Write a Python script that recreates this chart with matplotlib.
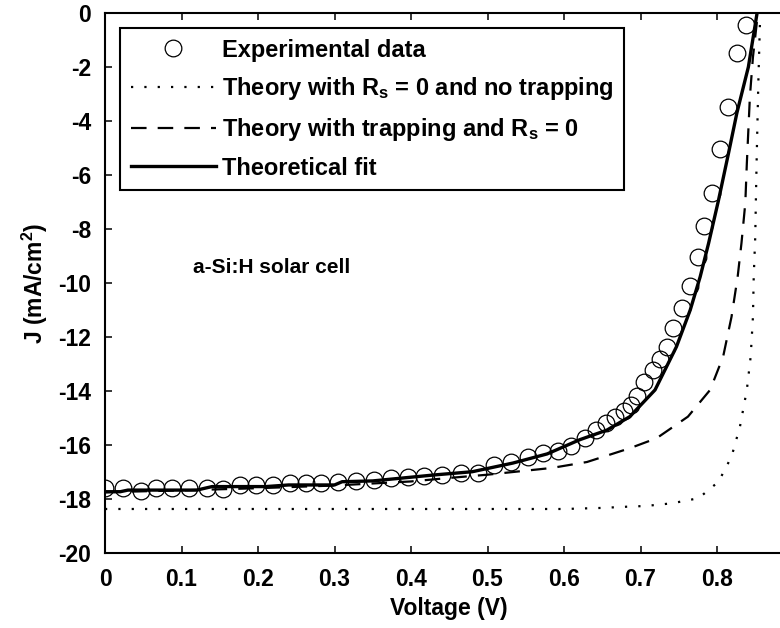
import matplotlib
matplotlib.use("Agg")
import matplotlib.pyplot as plt

# ---------------- data ----------------
exp_v = [0.000, 0.023, 0.047, 0.067, 0.087, 0.110, 0.133, 0.154, 0.176, 0.198,
         0.220, 0.242, 0.263, 0.283, 0.305, 0.328, 0.351, 0.374, 0.396, 0.417,
         0.440, 0.466, 0.488, 0.508, 0.531, 0.553, 0.573, 0.592, 0.609, 0.627,
         0.642, 0.655, 0.667, 0.678, 0.688, 0.696, 0.704, 0.716, 0.725, 0.734,
         0.743, 0.754, 0.765, 0.775, 0.783, 0.794, 0.804, 0.814, 0.826, 0.838]
exp_j = [-17.60, -17.60, -17.70, -17.58, -17.58, -17.60, -17.60, -17.64, -17.48, -17.48,
         -17.48, -17.42, -17.40, -17.42, -17.36, -17.33, -17.30, -17.23, -17.17, -17.15,
         -17.11, -17.03, -17.05, -16.74, -16.63, -16.44, -16.30, -16.22, -16.04, -15.74,
         -15.44, -15.19, -14.96, -14.75, -14.50, -14.20, -13.65, -13.22, -12.83, -12.36,
         -11.68, -10.94, -10.10, -9.03, -7.89, -6.68, -5.05, -3.48, -1.48, -0.44]

notrap_v = [0.000, 0.100, 0.200, 0.300, 0.400, 0.500, 0.600, 0.650, 0.686, 0.706,
            0.741, 0.776, 0.802, 0.819, 0.830, 0.839, 0.844, 0.847, 0.848, 0.850,
            0.851, 0.852, 0.854, 0.856, 0.857]
notrap_j = [-18.37, -18.37, -18.37, -18.37, -18.37, -18.37, -18.37, -18.33, -18.28, -18.26,
            -18.16, -17.97, -17.36, -16.43, -15.32, -13.96, -12.73, -11.25, -9.77, -8.28,
            -6.67, -5.20, -2.60, -0.50, 0.00]

trap_v = [0.000, 0.100, 0.200, 0.300, 0.400, 0.450, 0.500, 0.520, 0.584, 0.630,
          0.686, 0.721, 0.762, 0.791, 0.808, 0.819, 0.827, 0.832, 0.837, 0.839,
          0.841, 0.843, 0.847, 0.852, 0.854]
trap_j = [-17.75, -17.68, -17.60, -17.50, -17.35, -17.22, -17.10, -17.04, -16.85, -16.63,
          -16.12, -15.75, -14.95, -13.96, -12.73, -11.25, -9.77, -8.52, -7.04, -5.57,
          -4.33, -3.10, -1.63, -0.37, 0.00]

fit_v = [0.000, 0.020, 0.030, 0.120, 0.140, 0.210, 0.240, 0.300, 0.310, 0.350,
         0.390, 0.430, 0.480, 0.533, 0.578, 0.621, 0.656, 0.686, 0.719, 0.747,
         0.765, 0.778, 0.789, 0.802, 0.815, 0.826, 0.841, 0.852]
fit_j = [-17.73, -17.73, -17.67, -17.67, -17.54, -17.54, -17.48, -17.48, -17.36, -17.33,
         -17.22, -17.11, -16.99, -16.67, -16.33, -15.80, -15.45, -14.95, -13.96, -12.36,
         -11.00, -9.77, -8.53, -6.93, -5.20, -3.70, -2.00, -0.07]

x_ticks = [0, 0.1, 0.2, 0.3, 0.4, 0.5, 0.6, 0.7, 0.8]
x_ticklabels = ["0", "0.1", "0.2", "0.3", "0.4", "0.5", "0.6", "0.7", "0.8"]
y_ticks = [0, -2, -4, -6, -8, -10, -12, -14, -16, -18, -20]

labels = ["Experimental data",
          r"Theory with R$_\mathregular{s}$ = 0 and no trapping",
          r"Theory with trapping and R$_\mathregular{s}$ = 0",
          "Theoretical fit"]

# ---------------- style ----------------
plt.rcParams["font.family"] = ["Liberation Sans", "DejaVu Sans"]
plt.rcParams["font.weight"] = "bold"
plt.rcParams["axes.labelweight"] = "bold"
plt.rcParams["mathtext.default"] = "regular"
plt.rcParams["axes.unicode_minus"] = False

fig = plt.figure(figsize=(7.8, 6.28), dpi=100)
# x axis: 0 at px 105, 0.9 at px 793.5 ; y axis: top px 13, bottom px 553
ax = fig.add_axes([105 / 780, 1 - 553 / 628, (793.5 - 105) / 780, 540 / 628])

ax.plot(exp_v, exp_j, linestyle="none", marker="o", markersize=12,
        markerfacecolor="none", markeredgecolor="black", markeredgewidth=0.9,
        label=labels[0])
ax.plot(notrap_v, notrap_j, color="black", linewidth=1.6,
        linestyle=(0, (1, 5.0)), label=labels[1])
ax.plot(trap_v, trap_j, color="black", linewidth=1.6,
        linestyle=(0, (7, 5)), label=labels[2])
ax.plot(fit_v, fit_j, color="black", linewidth=2.4, solid_joinstyle="round",
        label=labels[3])

ax.set_xlim(0, 0.9)
ax.set_ylim(-20, 0)
ax.set_xticks(x_ticks)
ax.set_xticklabels(x_ticklabels)
ax.set_yticks(y_ticks)
ax.tick_params(direction="in", length=5, width=1.1, labelsize=16.5,
               top=True, right=False)
ax.tick_params(axis="x", pad=11)
ax.tick_params(axis="y", pad=10)
for s in ax.spines.values():
    s.set_linewidth(1.5)

ax.set_xlabel("Voltage (V)", fontsize=16.5, fontweight="bold", labelpad=4)
ax.set_ylabel(r"J (mA/cm$^\mathregular{2}$)", fontsize=16.5, fontweight="bold",
              labelpad=6)

ax.text(0.115, -9.44, "a-Si:H solar cell", fontsize=15, fontweight="bold",
        va="center", ha="left")

leg = ax.legend(loc="upper left", bbox_to_anchor=(15 / 688.5, 525 / 540),
                borderaxespad=0, fontsize=17, handlelength=3.6,
                handletextpad=0.25, labelspacing=0.58, borderpad=0.45,
                fancybox=False, framealpha=1, edgecolor="black")
leg.get_frame().set_linewidth(1.5)

fig.savefig("out.png", dpi=100)
